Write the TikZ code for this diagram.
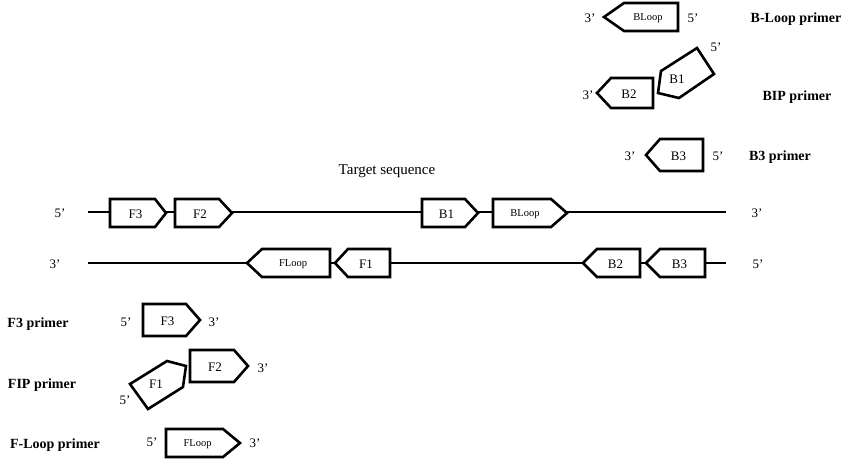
\documentclass[tikz,border=0pt]{standalone}
\usepackage{fontspec}
\setmainfont{Liberation Serif}
\begin{document}
\begin{tikzpicture}[x=1pt,y=-1pt,
  box/.style={draw=black,line width=2.6pt,fill=white,line join=miter},
  strand/.style={line width=2pt},
  lab/.style={font=\fontsize{13}{13}\selectfont,inner sep=0pt},
  inl/.style={font=\fontsize{13}{13}\selectfont,inner sep=0pt},
  sinl/.style={font=\fontsize{10.5}{10.5}\selectfont,inner sep=0pt},
  ttl/.style={font=\bfseries\fontsize{14}{14}\selectfont,inner sep=0pt}]
\useasboundingbox (0,0) rectangle (850,459);
% right pointing: #1 name, #2 xl, #3 rect right, #4 tip, #5 yc, #6 half h, #7 label, #8 style
\newcommand\rpb[8]{\draw[box] (#2,#5-#6) -- (#3,#5-#6) -- (#4,#5) -- (#3,#5+#6) -- (#2,#5+#6) -- cycle;
  \node[#8] (#1) at ({(#2+#3)/2+3},#5+1) {#7};}
\newcommand\lpb[8]{\draw[box] (#2,#5-#6) -- (#3,#5-#6) -- (#3,#5+#6) -- (#2,#5+#6) -- (#4,#5) -- cycle;
  \node[#8] (#1) at ({(#2+#3)/2-3},#5+1) {#7};}
% strands
\coordinate (t1) at (88,212); \coordinate (t2) at (726,212);
\coordinate (b1) at (88,263); \coordinate (b2) at (726,263);
\draw[strand] (t1) -- (t2);
\draw[strand] (b1) -- (b2);
\node[lab] (t5) at (60,213) {5'};
\node[lab] (t3) at (757,213) {3'};
\node[lab] (b3) at (55,264) {3'};
\node[lab] (b5) at (758,264) {5'};
\node[font=\fontsize{15}{15}\selectfont] (ts) at (387,171) {Target sequence};
\rpb{sF3}{110}{155}{166}{213}{14}{F3}{inl}
\rpb{sF2}{175}{219}{232}{213}{14}{F2}{inl}
\rpb{sB1}{422}{465}{478}{213}{14}{B1}{inl}
\rpb{sBL}{493}{551}{567}{213}{14}{BLoop}{sinl}
\lpb{sFL}{262}{330}{247}{263}{14}{FLoop}{sinl}
\lpb{sF1}{348}{390}{335}{263}{14}{F1}{inl}
\lpb{sB2}{597}{640}{583}{263}{14}{B2}{inl}
\lpb{sB3}{660}{705}{646}{263}{14}{B3}{inl}
% B-Loop primer
\lpb{pBL}{624}{678}{604}{17}{14}{BLoop}{sinl}
\node[lab] at (590,18) {3'}; \node[lab] at (693,18) {5'};
\node[ttl] at (796,19) {B-Loop primer};
% BIP
\lpb{pB2}{611}{653}{597}{93}{15}{B2}{inl}
\draw[box] (697,48) -- (714,74) -- (679,98) -- (658,93) -- (661,71) -- cycle;
\node[inl] (pB1) at (677,79) {B1};
\node[lab] at (588,95) {3'}; \node[lab] at (716,47) {5'};
\node[ttl] at (797,97) {BIP primer};
% B3
\lpb{pB3}{660}{703}{646}{155}{16}{B3}{inl}
\node[lab] at (630,156) {3'}; \node[lab] at (718,156) {5'};
\node[ttl] at (780,157) {B3 primer};
% F3 primer
\rpb{pF3}{143}{186}{200}{320}{16}{F3}{inl}
\node[lab] at (126,322) {5'}; \node[lab] at (214,322) {3'};
\node[ttl] at (38,324) {F3 primer};
% FIP
\rpb{pF2}{190}{234}{248}{366}{16}{F2}{inl}
\draw[box] (130,384) -- (167,361) -- (186,366) -- (183,387) -- (148,409) -- cycle;
\node[inl] (pF1) at (156,384) {F1};
\node[lab] at (263,368) {3'}; \node[lab] at (125,400) {5'};
\node[ttl] at (42,385) {FIP primer};
% F-Loop
\rpb{pFL}{166}{223}{240}{443}{14}{FLoop}{sinl}
\node[lab] at (152,442) {5'}; \node[lab] at (255,443) {3'};
\node[ttl] at (55,445) {F-Loop primer};
\end{tikzpicture}
\end{document}
